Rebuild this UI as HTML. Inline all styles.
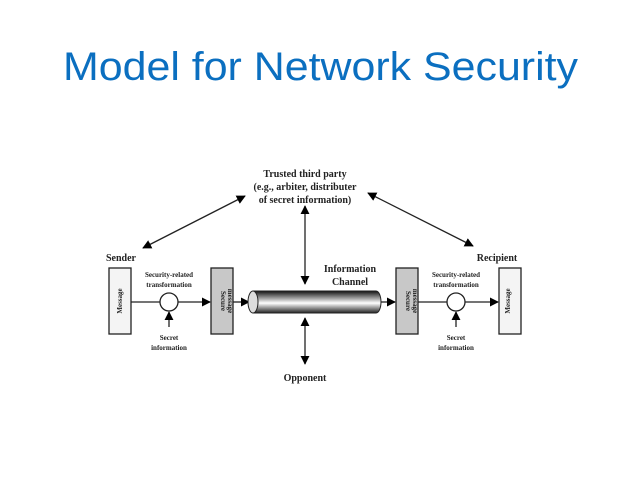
<!DOCTYPE html>
<html><head><style>body{margin:0;background:#fff}svg{display:block}</style></head>
<body>
<svg width="638" height="479" viewBox="0 0 638 479" xmlns="http://www.w3.org/2000/svg">
<defs>
<marker id="a" viewBox="0 0 10 10" refX="9" refY="5" markerWidth="7" markerHeight="7" orient="auto-start-reverse"><path d="M0,0 L10,5 L0,10 z" fill="#000"/></marker>
<linearGradient id="g" x1="0" y1="0" x2="0" y2="1"><stop offset="0" stop-color="#111"/><stop offset="0.55" stop-color="#fff"/><stop offset="1" stop-color="#222"/></linearGradient>
</defs>
<text x="63" y="80" font-family="Liberation Sans, sans-serif" font-size="40" fill="#0b6fc0" textLength="515" lengthAdjust="spacingAndGlyphs">Model for Network Security</text>
<g font-family="Liberation Serif, serif" font-weight="bold" fill="#222" text-anchor="middle">
<text x="305" y="177" font-size="10">Trusted third party</text>
<text x="305" y="190" font-size="10">(e.g., arbiter, distributer</text>
<text x="305" y="203" font-size="10">of secret information)</text>
<text x="121" y="261" font-size="10">Sender</text>
<text x="497" y="261" font-size="10">Recipient</text>
<text x="350" y="272" font-size="10">Information</text>
<text x="350" y="285" font-size="10">Channel</text>
<text x="305" y="381" font-size="10">Opponent</text>
<text x="169" y="277" font-size="7">Security-related</text>
<text x="169" y="287" font-size="7">transformation</text>
<text x="456" y="277" font-size="7">Security-related</text>
<text x="456" y="287" font-size="7">transformation</text>
<text x="169" y="340" font-size="7">Secret</text>
<text x="169" y="350" font-size="7">information</text>
<text x="456" y="340" font-size="7">Secret</text>
<text x="456" y="350" font-size="7">information</text>
</g>
<g stroke="#222" stroke-width="1.3" fill="none">
<rect x="109" y="268" width="22" height="66" fill="#f4f4f4"/>
<rect x="211" y="268" width="22" height="66" fill="#c8c8c8"/>
<rect x="396" y="268" width="22" height="66" fill="#c8c8c8"/>
<rect x="499" y="268" width="22" height="66" fill="#f4f4f4"/>
<circle cx="169" cy="302" r="9" fill="#fff"/>
<circle cx="456" cy="302" r="9" fill="#fff"/>
<line x1="131" y1="302" x2="160" y2="302"/>
<line x1="178" y1="302" x2="210" y2="302" marker-end="url(#a)"/>
<line x1="233" y1="302" x2="249" y2="302" marker-end="url(#a)"/>
<line x1="380" y1="302" x2="395" y2="302" marker-end="url(#a)"/>
<line x1="418" y1="302" x2="447" y2="302"/>
<line x1="465" y1="302" x2="498" y2="302" marker-end="url(#a)"/>
<line x1="169" y1="327" x2="169" y2="312" marker-end="url(#a)"/>
<line x1="456" y1="327" x2="456" y2="312" marker-end="url(#a)"/>
<line x1="305" y1="206" x2="305" y2="284" marker-start="url(#a)" marker-end="url(#a)"/>
<line x1="305" y1="318" x2="305" y2="364" marker-start="url(#a)" marker-end="url(#a)"/>
<line x1="143" y1="248" x2="245" y2="196" marker-start="url(#a)" marker-end="url(#a)"/>
<line x1="368" y1="193" x2="473" y2="246" marker-start="url(#a)" marker-end="url(#a)"/>
</g>
<path d="M253,291 H376 A5,11 0 0 1 376,313 H253 Z" fill="url(#g)" stroke="#222"/>
<ellipse cx="253" cy="302" rx="5" ry="11" fill="#ddd" stroke="#222"/>
<g font-family="Liberation Serif, serif" font-weight="bold" font-size="7" fill="#222" text-anchor="middle">
<text transform="translate(122,301) rotate(-90)">Message</text>
<text transform="translate(510,301) rotate(-90)">Message</text>
<text transform="translate(221,301) rotate(90)">Secure</text>
<text transform="translate(228,301) rotate(90)">message</text>
<text transform="translate(406,301) rotate(90)">Secure</text>
<text transform="translate(413,301) rotate(90)">message</text>
</g>
</svg>
</body></html>
